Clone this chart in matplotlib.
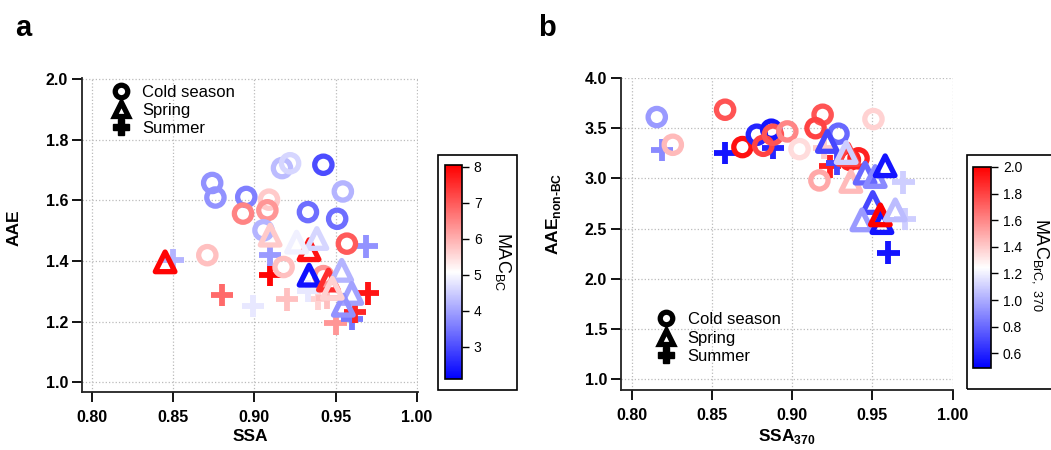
import matplotlib
matplotlib.use("Agg")
import matplotlib.pyplot as plt
import numpy as np
from matplotlib.colors import LinearSegmentedColormap, Normalize
from matplotlib.lines import Line2D
from matplotlib.patches import Rectangle
import matplotlib.cm as cm

plt.rcParams['font.family'] = ['Liberation Sans', 'DejaVu Sans']
plt.rcParams['mathtext.fontset'] = 'custom'
plt.rcParams['mathtext.rm'] = 'Liberation Sans'
plt.rcParams['mathtext.bf'] = 'Liberation Sans:bold'

# ---- panel a: SSA vs AAE, coloured by MAC_BC ----
cold_ssa_a = [0.9425, 0.917, 0.922, 0.874, 0.876, 0.895, 0.893, 0.909, 0.908, 0.9545, 0.933, 0.951, 0.957, 0.871, 0.9056, 0.918, 0.9425]
cold_aae_a = [1.717, 1.706, 1.722, 1.657, 1.609, 1.611, 1.556, 1.602, 1.567, 1.629, 1.561, 1.539, 1.457, 1.419, 1.501, 1.380, 1.35]
cold_mac_a = [3.0, 4.3, 4.6, 3.8, 3.8, 3.6, 6.5, 5.7, 6.3, 4.2, 3.4, 3.4, 7.0, 5.8, 4.2, 5.8, 6.3]

spr_ssa_a = [0.845, 0.9337, 0.9337, 0.9456, 0.9097, 0.9385, 0.926, 0.9538, 0.960, 0.9548, 0.948]
spr_aae_a = [1.397, 1.437, 1.353, 1.337, 1.485, 1.474, 1.462, 1.369, 1.293, 1.254, 1.31]
spr_mac_a = [8.0, 7.8, 2.3, 7.5, 5.7, 4.6, 4.9, 4.2, 4.0, 3.8, 5.6]

sum_ssa_a = [0.850, 0.880, 0.899, 0.920, 0.9097, 0.9097, 0.969, 0.970, 0.950, 0.960, 0.962, 0.9395, 0.9446, 0.933]
sum_aae_a = [1.402, 1.287, 1.251, 1.273, 1.353, 1.421, 1.448, 1.293, 1.194, 1.21, 1.232, 1.276, 1.277, 1.30]
sum_mac_a = [4.2, 6.8, 4.8, 5.8, 8.0, 3.9, 3.8, 7.8, 6.3, 3.5, 7.6, 5.6, 5.8, 4.8]

# ---- panel b: SSA370 vs AAE non-BC, coloured by MAC_BrC,370 ----
cold_ssa_b = [0.8156, 0.8256, 0.8582, 0.869, 0.878, 0.887, 0.882, 0.888, 0.897, 0.9046, 0.919, 0.9146, 0.917, 0.9289, 0.9507, 0.9414, 0.936]
cold_aae_b = [3.611, 3.335, 3.684, 3.312, 3.435, 3.485, 3.325, 3.435, 3.468, 3.292, 3.634, 3.50, 2.98, 3.445, 3.591, 3.20, 3.185]
cold_mac_b = [0.95, 1.45, 1.75, 1.95, 0.6, 0.55, 1.8, 1.75, 1.6, 1.35, 1.75, 1.8, 1.5, 0.8, 1.38, 1.9, 1.9]

spr_ssa_b = [0.935, 0.922, 0.9337, 0.9366, 0.9455, 0.9518, 0.958, 0.9503, 0.9435, 0.956, 0.955, 0.9643]
spr_aae_b = [3.24, 3.368, 3.258, 2.97, 3.053, 3.019, 3.126, 2.76, 2.587, 2.56, 2.637, 2.687]
spr_mac_b = [1.8, 0.7, 1.1, 1.45, 0.8, 0.9, 0.55, 0.7, 0.95, 0.55, 2.0, 1.05]

sum_ssa_b = [0.8187, 0.8582, 0.888, 0.9237, 0.928, 0.9694, 0.9705, 0.96, 0.92]
sum_aae_b = [3.285, 3.252, 3.30, 3.12, 3.15, 2.96, 2.594, 2.262, 3.30]
sum_mac_b = [0.9, 0.55, 0.6, 1.9, 0.7, 1.1, 1.1, 0.55, 1.4]

cmap = LinearSegmentedColormap.from_list('bwr2', ['#0000ff', '#ffffff', '#ff0000'])
norm_a = Normalize(2.1, 8.05)
norm_b = Normalize(0.49, 2.0)

W, H = 1051, 450
fig = plt.figure(figsize=(W / 100, H / 100), dpi=100)


def px(x0, y0, x1, y1):
    # pixel box -> figure fraction rect
    return [x0 / W, 1 - y1 / H, (x1 - x0) / W, (y1 - y0) / H]


def style_axes(ax):
    for s in ('top', 'right'):
        ax.spines[s].set_visible(False)
    for s in ('left', 'bottom'):
        ax.spines[s].set_linewidth(1.3)
        ax.spines[s].set_color('#222222')
    ax.grid(True, ls=':', color='#bbbbbb', lw=0.9)
    ax.set_axisbelow(True)
    ax.tick_params(direction='out', length=7, width=1.3, labelsize=11.5)
    ax.tick_params(axis='x', pad=6)
    ax.tick_params(axis='y', pad=3)
    for lab in ax.get_xticklabels() + ax.get_yticklabels():
        lab.set_fontweight('bold')


def draw(ax, ssa, aae, mac, marker, norm):
    cols = cmap(norm(np.array(mac)))
    if marker == '+':
        ax.scatter(ssa, aae, marker='+', s=260, c=cols, linewidths=4.2, zorder=3)
    else:
        size = 155 if marker == 'o' else 200
        ax.scatter(ssa, aae, marker=marker, s=size, facecolors='none',
                   edgecolors=cols, linewidths=3.8, zorder=3)


def season_legend(ax, loc, anchor):
    hs = [Line2D([], [], ls='', marker='o', ms=9, mfc='white', mec='black', mew=3.8),
          Line2D([], [], ls='', marker='^', ms=10.5, mfc='white', mec='black', mew=3.8),
          Line2D([], [], ls='', marker='P', ms=12, color='black')]
    ax.legend(hs, ['Cold season', 'Spring', 'Summer'], loc=loc, bbox_to_anchor=anchor,
              frameon=False, fontsize=12, handlelength=1.0, handletextpad=0.8,
              labelspacing=0.2, borderaxespad=0)


# panel a
ax1 = fig.add_axes(px(82, 78, 418, 392))
draw(ax1, sum_ssa_a, sum_aae_a, sum_mac_a, '+', norm_a)
draw(ax1, cold_ssa_a, cold_aae_a, cold_mac_a, 'o', norm_a)
draw(ax1, spr_ssa_a, spr_aae_a, spr_mac_a, '^', norm_a)
ax1.set_xlim(0.7938, 1.0008)
ax1.set_ylim(0.968, 2.003)
ax1.set_xticks(np.arange(0.80, 1.001, 0.05))
ax1.set_yticks(np.arange(1.0, 2.01, 0.2))
ax1.set_xticklabels(['0.80', '0.85', '0.90', '0.95', '1.00'])
ax1.set_yticklabels(['1.0', '1.2', '1.4', '1.6', '1.8', '2.0'])
style_axes(ax1)
ax1.set_xlabel('SSA', fontsize=12.5, fontweight='bold', labelpad=3)
ax1.set_ylabel('AAE', fontsize=12.5, fontweight='bold')
ax1.yaxis.set_label_coords(-0.179, 0.522)
season_legend(ax1, 'upper left', (0.07, 1.0))

# panel b
ax2 = fig.add_axes(px(621, 78, 953, 390))
draw(ax2, sum_ssa_b, sum_aae_b, sum_mac_b, '+', norm_b)
draw(ax2, cold_ssa_b, cold_aae_b, cold_mac_b, 'o', norm_b)
draw(ax2, spr_ssa_b, spr_aae_b, spr_mac_b, '^', norm_b)
ax2.set_xlim(0.7933, 1.0003)
ax2.set_ylim(0.893, 4.0)
ax2.set_xticks(np.arange(0.80, 1.001, 0.05))
ax2.set_yticks(np.arange(1.0, 4.01, 0.5))
ax2.set_xticklabels(['0.80', '0.85', '0.90', '0.95', '1.00'])
ax2.set_yticklabels(['1.0', '1.5', '2.0', '2.5', '3.0', '3.5', '4.0'])
style_axes(ax2)
ax2.set_xlabel(r'SSA$_{\mathbf{370}}$', fontsize=12.5, fontweight='bold', labelpad=3)
ax2.set_ylabel('AAE$_{\\mathbf{non\u2010BC}}$', fontsize=12.5, fontweight='bold')
ax2.yaxis.set_label_coords(-0.175, 0.564)
season_legend(ax2, 'lower left', (0.09, 0.062))

# colour bars with a box round them
fig.add_artist(Rectangle((438 / W, 1 - 390 / H), (517 - 438) / W, (390 - 155) / H,
                         transform=fig.transFigure, fill=False, lw=1.2, ec='black'))
cax1 = fig.add_axes(px(445, 165, 462, 379))
cb1 = fig.colorbar(cm.ScalarMappable(norm=norm_a, cmap=cmap), cax=cax1)
cb1.set_ticks([3, 4, 5, 6, 7, 8])
cax1.tick_params(labelsize=10, length=5, width=1)
cb1.outline.set_linewidth(1.2)
fig.text(503 / W, 1 - 262 / H, r'MAC$_{\mathregular{BC}}$', rotation=-90, fontsize=13,
         ha='center', va='center')

fig.add_artist(Rectangle((967 / W, 1 - 389 / H), (1100 - 967) / W, (389 - 155) / H,
                         transform=fig.transFigure, fill=False, lw=1.2, ec='black'))
cax2 = fig.add_axes(px(973, 167, 991, 368))
cb2 = fig.colorbar(cm.ScalarMappable(norm=norm_b, cmap=cmap), cax=cax2)
cb2.set_ticks([0.6, 0.8, 1.0, 1.2, 1.4, 1.6, 1.8, 2.0])
cb2.set_ticklabels(['0.6', '0.8', '1.0', '1.2', '1.4', '1.6', '1.8', '2.0'])
cax2.tick_params(labelsize=10, length=5, width=1)
cb2.outline.set_linewidth(1.2)
fig.text(1040 / W, 1 - 265 / H, r'MAC$_{\mathregular{BrC,\ 370}}$', rotation=-90, fontsize=13,
         ha='center', va='center')

fig.text(15 / W, 1 - 28 / H, 'a', fontsize=21, fontweight='bold', ha='left', va='center')
fig.text(538 / W, 1 - 28 / H, 'b', fontsize=21, fontweight='bold', ha='left', va='center')

fig.savefig('out.png', dpi=100)
